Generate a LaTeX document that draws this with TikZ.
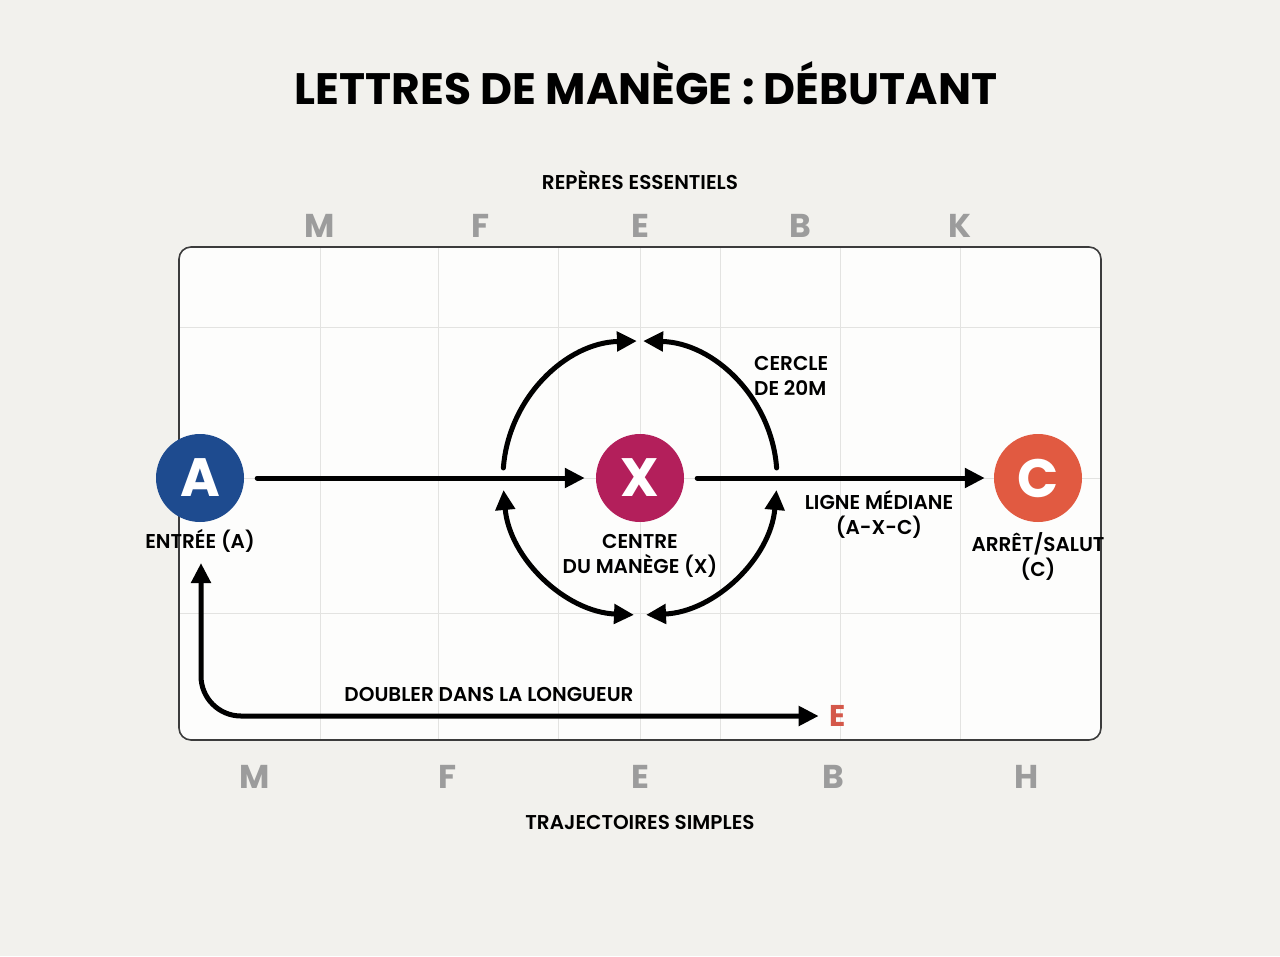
\documentclass[tikz,border=0pt]{standalone}
\usepackage{fontspec}
\setmainfont{Poppins}
\newfontfamily\semifont{Poppins SemiBold}
\usetikzlibrary{arrows.meta}

\definecolor{paper}{HTML}{F2F1ED}
\definecolor{arena}{HTML}{FDFDFC}
\definecolor{gridgray}{HTML}{E3E3E1}
\definecolor{rim}{HTML}{3C3C3C}
\definecolor{letgray}{HTML}{9C9C9C}
\definecolor{dotA}{HTML}{1E4B8F}
\definecolor{dotX}{HTML}{B31F5B}
\definecolor{dotC}{HTML}{E15A41}
\definecolor{redE}{HTML}{D4584A}

\tikzset{
  dot/.style={circle,minimum size=88pt,inner sep=0pt,text=white,
    font=\bfseries\fontsize{54}{54}\selectfont},
  flow/.style={line width=5pt,>={Triangle[length=20pt,width=19pt]}},
  lbl/.style={align=center,inner sep=0pt,font=\semifont\fontsize{20}{25}\selectfont},
  markletter/.style={text=letgray,inner sep=0pt,font=\bfseries\fontsize{33}{33}\selectfont}
}

\begin{document}
\begin{tikzpicture}[line cap=round,line join=round,x=1pt,y=-1pt]
        \fill[paper] (0,0) rectangle (1280,956);
        \useasboundingbox (0,0) rectangle (1280,956);
        % arena
        \fill[arena,rounded corners=12pt] (179,247) rectangle (1101,740);
        \foreach \gx in {320,438,558,640,720,840,960}
            \draw[gridgray,line width=1pt] (\gx,248) -- (\gx,739);
        \foreach \gy in {327,478,613}
            \draw[gridgray,line width=1pt] (180,\gy) -- (1100,\gy);
        \draw[rim,line width=1.6pt,rounded corners=12pt] (179,247) rectangle (1101,740);
        % titles
        \node[font=\bfseries\fontsize{44}{50}\selectfont] (title) at (646,83) {LETTRES DE MANÈGE : DÉBUTANT};
        \node[lbl] (reperes) at (640,180) {REPÈRES ESSENTIELS};
        \node[lbl] (trajets) at (640,822) {TRAJECTOIRES SIMPLES};
        \foreach \lt/\lx [count=\i] in {M/320,F/481,E/640,B/800,K/960}
            \node[markletter] (top\i) at (\lx,226) {\lt};
        \foreach \lt/\lx [count=\i] in {M/255,F/448,E/640,B/833,H/1027}
            \node[markletter] (bot\i) at (\lx,777) {\lt};
        % letters
        \node[dot,fill=dotA] (A) at (200,478) {A};
        \node[dot,fill=dotX] (X) at (640,478) {X};
        \node[dot,fill=dotC] (C) at (1038,478) {C};
        \node[lbl] (Alab) at (200,541) {ENTRÉE (A)};
        \node[lbl] (Xlab) at (640,556) {CENTRE\\DU MANÈGE (X)};
        \node[lbl] (Clab) at (1038,556) {ARRÊT/SALUT\\(C)};
        \node[lbl] (mediane) at (879,514) {LIGNE MÉDIANE\\(A-X-C)};
        \node[lbl,align=left,anchor=west] (cercle) at (754,376) {CERCLE\\DE 20M};
        \node[lbl] (doubler) at (489,694) {DOUBLER DANS LA LONGUEUR};
        \node[markletter,text=redE,font=\bfseries\fontsize{30}{30}\selectfont] (Eend) at (838,716) {E};
        % paths
        \draw[flow,->,shorten <=13pt,shorten >=11pt] (A) -- (X);
        \draw[flow,->,shorten <=13pt,shorten >=9pt] (X) -- (C);
        \draw[flow,->] (X.center) ++(184.2:137) arc[start angle=184.2,end angle=268.7,radius=137];
        \draw[flow,->] (X.center) ++(355.8:137) arc[start angle=355.8,end angle=271.3,radius=137];
        \draw[flow,<->] (X.center) ++(175:137) arc[start angle=175,end angle=92.5,radius=137];
        \draw[flow,<->] (X.center) ++(5:137) arc[start angle=5,end angle=87.5,radius=137];
        \coordinate (dstart) at (201,563);
        \draw[flow,<->,rounded corners=40pt,shorten >=11pt] (dstart) |- (Eend.west);
    \end{tikzpicture}
\end{document}
